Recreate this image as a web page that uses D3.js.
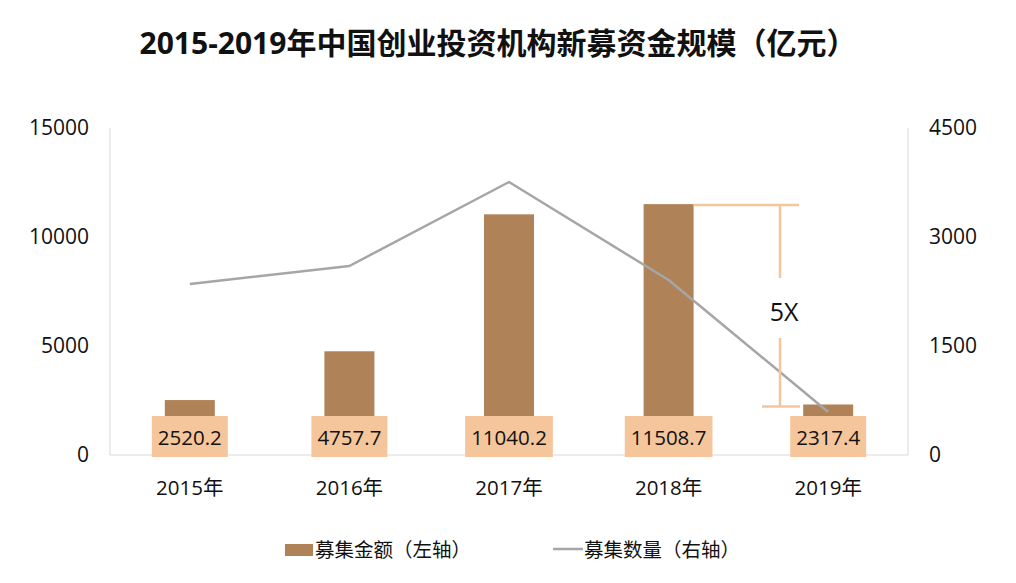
<!DOCTYPE html>
<html><head><meta charset="utf-8">
<script src="https://cdn.jsdelivr.net/npm/d3@7"></script>
<style>
body{margin:0;background:#fff;}
text{font-family:"Open Sans","Noto Sans CJK SC",sans-serif;}
</style></head>
<body><svg id="c" width="1016" height="583"></svg>
<script>
const categories = ["2015年","2016年","2017年","2018年","2019年"];
const amounts = [2520.2, 4757.7, 11040.2, 11508.7, 2317.4];
const counts = [2353, 2601, 3757, 2408, 592];
const leftTicks = [0, 5000, 10000, 15000];
const rightTicks = [0, 1500, 3000, 4500];
const title = "2015-2019年中国创业投资机构新募资金规模（亿元）";
const legendNames = ["募集金额（左轴）", "募集数量（右轴）"];

const svg = d3.select("#c");
const barColor = "#B08258", lineColor = "#A6A6A6", labelBg = "#F5C59B";
const x0 = 110, x1 = 908, yTop = 128, yBot = 455;
const ff = '"Open Sans","Noto Sans CJK SC",sans-serif';

const x = d3.scaleBand().domain(categories).range([x0, x1]);
const yL = d3.scaleLinear().domain([0, 15000]).range([yBot, yTop]);
const yR = d3.scaleLinear().domain([0, 4500]).range([yBot, yTop]);

svg.append("text").attr("x", 498).attr("y", 54).attr("text-anchor", "middle")
  .attr("font-size", 30).attr("font-weight", "bold").attr("fill", "#111").text(title);

svg.append("line").attr("x1", x0).attr("x2", x0).attr("y1", yTop).attr("y2", yBot).attr("stroke", "#D9D9D9").attr("stroke-width", 1);
svg.append("line").attr("x1", x1).attr("x2", x1).attr("y1", yTop).attr("y2", yBot).attr("stroke", "#D9D9D9").attr("stroke-width", 1);
svg.append("line").attr("x1", x0).attr("x2", x1).attr("y1", yBot).attr("y2", yBot).attr("stroke", "#D9D9D9").attr("stroke-width", 1);

const gl = svg.append("g").attr("transform", `translate(${x0},0)`)
  .call(d3.axisLeft(yL).tickValues(leftTicks).tickSize(0).tickPadding(21).tickFormat(d3.format("d")));
gl.select(".domain").remove();
gl.selectAll("text").attr("font-size", 21).attr("fill", "#111").style("font-family", ff);

const gr = svg.append("g").attr("transform", `translate(${x1},0)`)
  .call(d3.axisRight(yR).tickValues(rightTicks).tickSize(0).tickPadding(21).tickFormat(d3.format("d")));
gr.select(".domain").remove();
gr.selectAll("text").attr("font-size", 21).attr("fill", "#111").style("font-family", ff);

const gx = svg.append("g").attr("transform", `translate(0,${yBot})`)
  .call(d3.axisBottom(x).tickSize(0).tickPadding(25));
gx.select(".domain").remove();
gx.selectAll("text").attr("font-size", 20.5).attr("fill", "#111").style("font-family", ff);

const bw = 50;
svg.append("g").selectAll("rect").data(amounts).join("rect")
  .attr("x", (d, i) => x(categories[i]) + x.bandwidth() / 2 - bw / 2)
  .attr("y", d => yL(d)).attr("width", bw).attr("height", d => yBot - yL(d))
  .attr("fill", barColor);

const line = d3.line().x((d, i) => x(categories[i]) + x.bandwidth() / 2).y(d => yR(d));
svg.append("path").datum(counts).attr("d", line).attr("fill", "none")
  .attr("stroke", lineColor).attr("stroke-width", 2.5).attr("stroke-linejoin", "round");

const lg = svg.append("g");
amounts.forEach((d, i) => {
  const cx = x(categories[i]) + x.bandwidth() / 2;
  const t = lg.append("text").attr("x", cx).attr("y", 445).attr("text-anchor", "middle")
    .attr("font-size", 20.5).attr("fill", "#111").text(d.toFixed(1));
  const w = t.node().getComputedTextLength();
  lg.insert("rect", "text").attr("x", cx - w / 2 - 6).attr("y", 416).attr("width", w + 12).attr("height", 41).attr("fill", labelBg);
});

const ann = svg.append("g").attr("stroke", labelBg).attr("stroke-width", 2.5);
const cx18 = x(categories[3]) + x.bandwidth() / 2;
const yTopA = yL(amounts[3]) + 1, yBotA = yL(amounts[4]) + 2;
const ax = 780;
ann.append("line").attr("x1", cx18 + bw / 2).attr("x2", 799).attr("y1", yTopA).attr("y2", yTopA);
ann.append("line").attr("x1", ax).attr("x2", ax).attr("y1", yTopA).attr("y2", 278);
ann.append("line").attr("x1", ax).attr("x2", ax).attr("y1", 338).attr("y2", yBotA);
ann.append("line").attr("x1", 762).attr("x2", 800).attr("y1", yBotA).attr("y2", yBotA);
svg.append("text").attr("x", 784).attr("y", 321).attr("text-anchor", "middle")
  .attr("font-size", 25).attr("fill", "#111").text((amounts[3] / amounts[4]).toFixed(0) + "X");

svg.append("rect").attr("x", 285).attr("y", 544).attr("width", 28).attr("height", 12).attr("fill", barColor);
svg.append("text").attr("x", 315).attr("y", 557).attr("font-size", 19.5).attr("fill", "#111").text(legendNames[0]);
svg.append("line").attr("x1", 553).attr("x2", 583).attr("y1", 549).attr("y2", 549).attr("stroke", lineColor).attr("stroke-width", 2.5);
svg.append("text").attr("x", 584).attr("y", 557).attr("font-size", 19.5).attr("fill", "#111").text(legendNames[1]);
</script></body></html>
